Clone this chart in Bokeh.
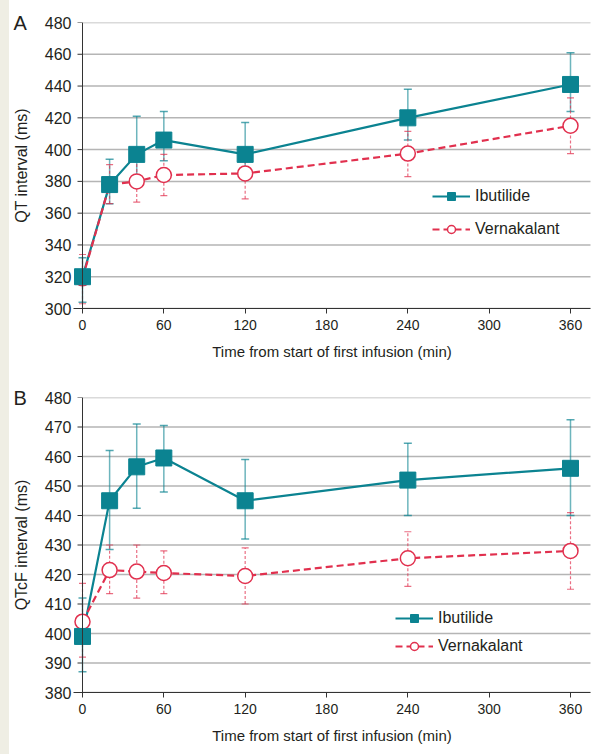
import math
from bokeh.plotting import figure
from bokeh.models import Range1d, Legend, LegendItem, Title, FixedTicker, Span
from bokeh.layouts import column
from bokeh.embed import file_html
from bokeh.resources import INLINE

# ---------------- data ----------------
time = [0, 20, 40, 60, 120, 240, 360]
x_ticks = [0, 60, 120, 180, 240, 300, 360]

# Panel A: QT interval (ms)
qt_ibu = [320, 378, 397, 406, 397, 420, 441]
qt_ibu_hi = [332, 394, 421, 424, 417, 438, 461]
qt_ibu_lo = [304, 366, 383, 393, 388, 406, 424]
qt_ver = [319, 378, 380, 384, 385, 397.5, 415]
qt_ver_hi = [334, 390.5, 393, 397, 396, 411.5, 432.5]
qt_ver_lo = [303, 366, 367, 371, 369, 383, 397.5]
qt_ticks = [300, 320, 340, 360, 380, 400, 420, 440, 460, 480]

# Panel B: QTcF interval (ms)
qtcf_ibu = [399, 445, 456.5, 459.5, 445, 452, 456]
qtcf_ibu_hi = [412, 462, 471, 470.5, 459, 464.5, 472.5]
qtcf_ibu_lo = [387, 428.5, 442.5, 448, 432, 440, 440]
qtcf_ver = [404, 421.5, 421, 420.5, 419.5, 425.5, 428]
qtcf_ver_hi = [417, 430, 430, 428, 429, 434.5, 441]
qtcf_ver_lo = [392, 413.5, 412, 413.5, 410, 416, 415]
qtcf_ticks = [380, 390, 400, 410, 420, 430, 440, 450, 460, 470, 480]

series_names = ["Ibutilide", "Vernakalant"]

TEAL = "#0b8391"
RED = "#e1304e"
FONT = "Liberation Sans"
TXT = "#231f20"
AX = "#333333"


def make_panel(letter, ylabel, yr, yticks, ibu, ibu_lo, ibu_hi, ver, ver_lo, ver_hi,
               height, btop, bbottom, leg_loc, leg_spacing):
    p = figure(width=591, height=height, output_backend="svg", toolbar_location=None,
               x_range=Range1d(-6.64, 374.75), y_range=Range1d(yr[0], yr[1]),
               min_border_left=73, min_border_right=1, min_border_top=btop,
               min_border_bottom=bbottom)
    p.outline_line_color = None
    p.background_fill_color = "white"
    p.border_fill_color = None
    p.xgrid.visible = False
    p.ygrid.visible = False

    p.yaxis.ticker = FixedTicker(ticks=yticks)
    p.xaxis.ticker = FixedTicker(ticks=x_ticks)
    for ax in (p.xaxis[0], p.yaxis[0]):
        ax.axis_line_color = AX
        ax.major_tick_line_color = AX
        ax.major_tick_out = 5
        ax.major_tick_in = 0
        ax.minor_tick_line_color = None
        ax.major_label_text_font = FONT
        ax.major_label_text_color = TXT
        ax.axis_label_text_font = FONT
        ax.axis_label_text_font_style = "normal"
        ax.axis_label_text_color = TXT
    # y axis: labels in the side panel, line and ticks drawn at x = 0
    p.yaxis.axis_line_color = None
    p.yaxis.major_tick_line_color = None
    p.yaxis.major_tick_out = 0
    p.yaxis.major_label_text_font_size = "16px"
    p.yaxis.major_label_standoff = 2
    p.yaxis.axis_label = ylabel
    p.yaxis.axis_label_text_font_size = "16px"
    p.yaxis.axis_label_standoff = 12

    p.xaxis.major_label_text_font_size = "14px"
    p.xaxis.major_label_standoff = 6
    p.xaxis.axis_label = "Time from start of first infusion (min)"
    p.xaxis.axis_label_text_font_size = "15px"
    p.xaxis.axis_label_standoff = 10

    n = len(yticks)
    # grid lines starting at the y axis
    p.ray(x=[0] * n, y=yticks, length=0, angle=0, line_color="#b5b5b5", line_width=1.5)
    # y axis line and tick marks
    p.add_layout(Span(location=0, dimension="height", line_color=AX, line_width=1))
    p.ray(x=[0] * n, y=yticks, length=5, length_units="screen", angle=math.pi,
          line_color=AX, line_width=1)

    # error bars
    p.segment(x0=time, y0=ibu_lo, x1=time, y1=ibu_hi, line_color=TEAL,
              line_alpha=0.6, line_width=1.5)
    p.scatter(x=time + time, y=ibu_lo + ibu_hi, marker="dash", size=8,
              line_color=TEAL, line_alpha=0.7, line_width=1.5)
    p.segment(x0=time, y0=ver_lo, x1=time, y1=ver_hi, line_color=RED,
              line_alpha=0.7, line_width=1.2, line_dash="3 2")
    p.scatter(x=time + time, y=ver_lo + ver_hi, marker="dash", size=7,
              line_color=RED, line_alpha=0.7, line_width=1.2)

    # lines + markers
    l_ibu = p.line(time, ibu, line_color=TEAL, line_width=2.2)
    l_ver = p.line(time, ver, line_color=RED, line_width=2.2, line_dash="7 4")
    m_ver = p.scatter(time, ver, marker="circle", size=15, fill_color="white",
                      line_color=RED, line_width=1.5)
    m_ibu = p.scatter(time, ibu, marker="square", size=16, fill_color=TEAL,
                      line_color=TEAL)

    legend = Legend(items=[LegendItem(label=series_names[0], renderers=[l_ibu, m_ibu]),
                           LegendItem(label=series_names[1], renderers=[l_ver, m_ver])],
                    location=leg_loc, background_fill_alpha=0, border_line_alpha=0,
                    glyph_width=38, glyph_height=20, label_height=20,
                    label_standoff=5, spacing=leg_spacing, padding=0, margin=0,
                    label_text_font=FONT, label_text_font_size="16px",
                    label_text_color=TXT)
    p.add_layout(legend)

    p.add_layout(Title(text=letter, align="left", offset=-60, standoff=-22,
                       vertical_align="bottom", text_font=FONT, text_font_size="20px",
                       text_font_style="normal", text_color=TXT), "above")
    return p


pA = make_panel("A", "QT interval (ms)", (300, 480), qt_ticks,
                qt_ibu, qt_ibu_lo, qt_ibu_hi, qt_ver, qt_ver_lo, qt_ver_hi,
                height=380, btop=22, bbottom=72, leg_loc=(359, 69), leg_spacing=13)
pB = make_panel("B", "QTcF interval (ms)", (380, 480), qtcf_ticks,
                qtcf_ibu, qtcf_ibu_lo, qtcf_ibu_hi, qtcf_ver, qtcf_ver_lo, qtcf_ver_hi,
                height=368, btop=17, bbottom=56, leg_loc=(322, 36), leg_spacing=8)

layout = column(pA, pB, spacing=0)
html = file_html(layout, INLINE)
html = html.replace(
    "</head>",
    "<style>html,body{margin:0;padding:0;}"
    "body{background:linear-gradient(to right,#efeee4 9px,#ffffff 9px);}</style></head>", 1)
open("out.html", "w").write(html)
